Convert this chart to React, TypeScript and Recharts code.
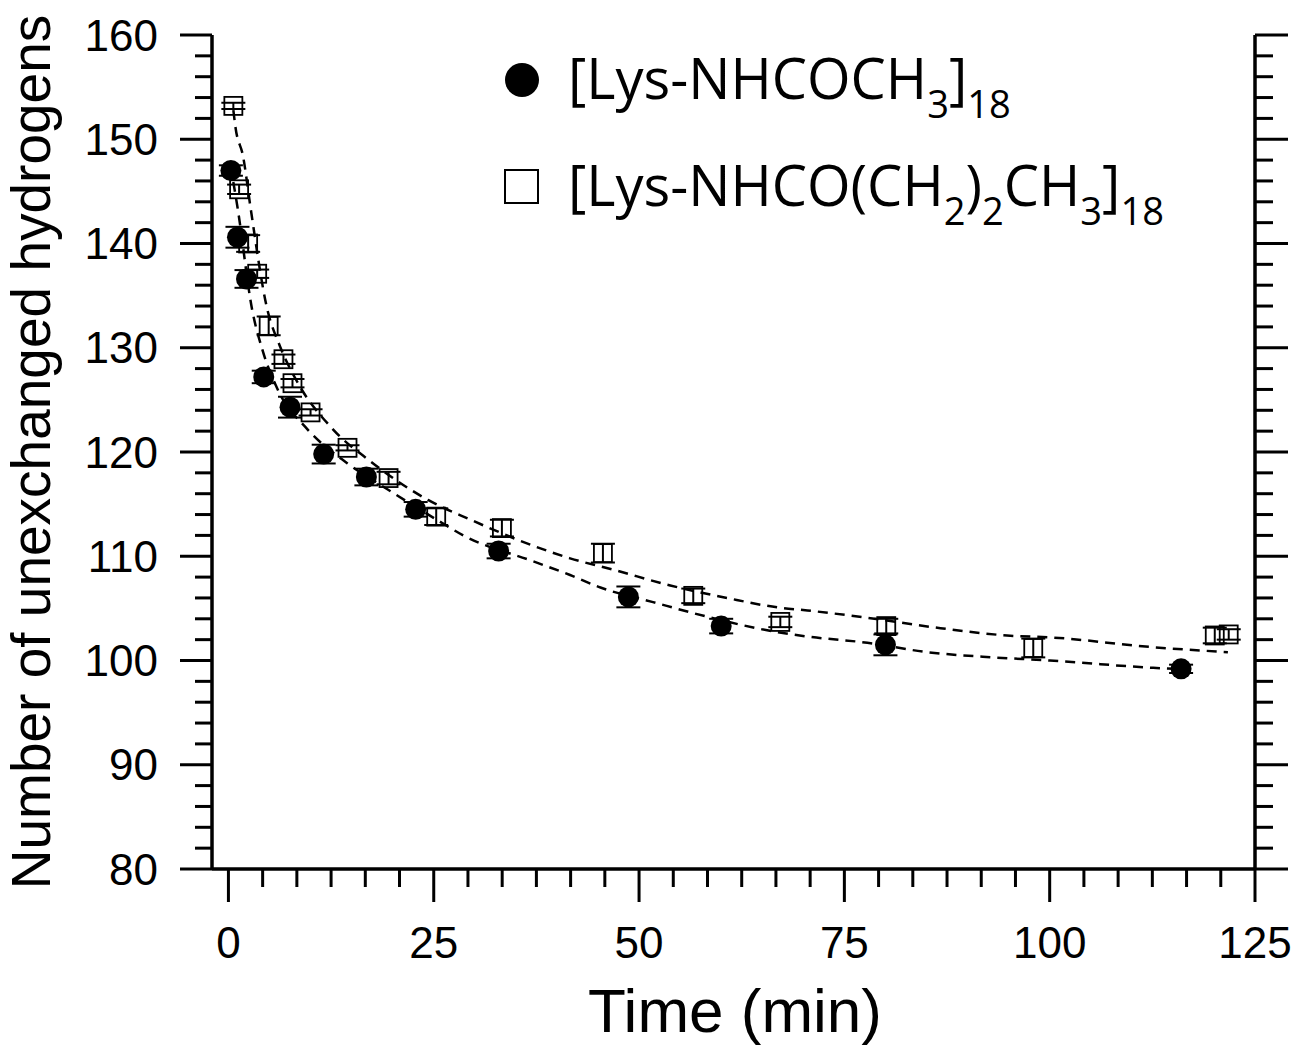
import React from "react";
import { ComposedChart, Scatter, Line, XAxis, YAxis, ErrorBar, Legend } from "recharts";

// [Lys-NHCOCH3]18 (filled circles)
const acetylTime = [0.3, 1.1, 2.2, 4.3, 7.5, 11.6, 16.8, 22.8, 32.9, 48.7, 60.0, 80.0, 116.0];
const acetylH = [147.0, 140.6, 136.6, 127.2, 124.3, 119.8, 117.6, 114.5, 110.5, 106.1, 103.3, 101.5, 99.2];
const acetylErr = [0.5, 1.0, 0.85, 0.6, 1.0, 0.9, 0.8, 0.7, 0.7, 1.0, 0.7, 1.0, 0.4];

// [Lys-NHCO(CH2)2CH3]18 (open squares)
const butyrylTime = [0.6, 1.3, 2.4, 3.5, 4.9, 6.7, 7.8, 10.0, 14.5, 19.5, 25.3, 33.3, 45.6, 56.6, 67.2, 80.1, 98.0, 120.1, 121.8];
const butyrylH = [153.2, 145.2, 140.0, 137.1, 132.1, 128.9, 126.6, 123.8, 120.4, 117.5, 113.8, 112.7, 110.3, 106.2, 103.7, 103.3, 101.2, 102.4, 102.5];
const butyrylErr = [0.3, 0.45, 0.8, 0.4, 0.9, 0.45, 0.4, 0.3, 0.25, 0.6, 0.8, 0.8, 0.9, 0.7, 0.5, 0.7, 0.9, 0.75, 0.5];

// dashed fit curves
const acetylFitTime = [0.24, 1.1, 2.9, 4.1, 6.0, 9.6, 14.5, 19.4, 25.8, 28.6, 36.8, 41.6, 45.3, 51.7, 58.3, 65.6, 70.5, 77.8, 85.1, 93.1, 100.0, 112.6, 115.3];
const acetylFitH = [147.5, 143.5, 133.6, 129.9, 126.0, 122.2, 118.9, 116.4, 113.3, 112.0, 109.6, 108.2, 107.0, 105.6, 104.2, 102.9, 102.3, 101.7, 100.8, 100.3, 100.0, 99.3, 99.2];
const butyrylFitTime = [0.6, 0.85, 1.8, 2.7, 4.7, 6.3, 8.4, 12.7, 17.3, 24.3, 29.5, 36.8, 41.6, 46.9, 53.8, 60.7, 66.8, 70.5, 77.8, 86.7, 94.8, 100.4, 112.2, 121.7];
const butyrylFitH = [152.8, 151.2, 148.3, 143.4, 133.8, 130.1, 126.7, 122.2, 119.1, 115.4, 113.5, 111.1, 109.8, 108.7, 107.2, 106.0, 105.1, 104.8, 104.1, 103.1, 102.4, 102.2, 101.3, 100.8];

const xMajor = [0, 25, 50, 75, 100, 125];
const xMinorSteps = 6;
const yMajor = [80, 90, 100, 110, 120, 130, 140, 150, 160];
const yMinorSteps = 5;

const legendNames = [
  [{ t: "[Lys-NHCOCH" }, { t: "3", sub: true }, { t: "]" }, { t: "18", sub: true }],
  [{ t: "[Lys-NHCO(CH" }, { t: "2", sub: true }, { t: ")" }, { t: "2", sub: true }, { t: "CH" }, { t: "3", sub: true }, { t: "]" }, { t: "18", sub: true }],
];

const acetylData = acetylTime.map((x, i) => ({ x, h: acetylH[i], err: acetylErr[i] }));
const butyrylData = butyrylTime.map((x, i) => ({ x, h: butyrylH[i], err: butyrylErr[i] }));
const acetylFit = acetylFitTime.map((x, i) => ({ x, h: acetylFitH[i] }));
const butyrylFit = butyrylFitTime.map((x, i) => ({ x, h: butyrylFitH[i] }));

const withMinor = (major: number[], steps: number) => {
  const out: number[] = [];
  for (let i = 0; i < major.length - 1; i++) {
    const d = (major[i + 1] - major[i]) / steps;
    for (let k = 0; k < steps; k++) out.push(major[i] + k * d);
  }
  out.push(major[major.length - 1]);
  return out;
};
const xTicks = withMinor(xMajor, xMinorSteps);
const yTicks = withMinor(yMajor, yMinorSteps);

const isMajor = (v: number, list: number[]) => list.some((m) => Math.abs(m - v) < 1e-6);

const font = '"Liberation Sans", Arial, sans-serif';

const LeftTick = (props: any) => {
  const { x, y, payload } = props;
  const major = isMajor(payload.value, yMajor);
  return (
    <g>
      <line x1={x} x2={x - (major ? 32 : 17)} y1={y} y2={y} stroke="#000" strokeWidth={3} />
      {major && (
        <text x={x - 54} y={y} textAnchor="end" dominantBaseline="central" fontSize={44} fontFamily={font} fill="#000">
          {payload.value}
        </text>
      )}
    </g>
  );
};

const RightTick = (props: any) => {
  const { x, y, payload } = props;
  const major = isMajor(payload.value, yMajor);
  return <line x1={x} x2={x + (major ? 33 : 18)} y1={y} y2={y} stroke="#000" strokeWidth={3} />;
};

const BottomTick = (props: any) => {
  const { x, y, payload } = props;
  const major = isMajor(payload.value, xMajor);
  return (
    <g>
      <line x1={x} x2={x} y1={y} y2={y + (major ? 33 : 18)} stroke="#000" strokeWidth={3} />
      {major && (
        <text x={x} y={y + 89} textAnchor="middle" fontSize={44} fontFamily={font} fill="#000">
          {Math.round(payload.value)}
        </text>
      )}
    </g>
  );
};

const Circle = (props: any) => <circle cx={props.cx} cy={props.cy} r={10.5} fill="#000" />;
const Square = (props: any) => (
  <rect x={props.cx - 9} y={props.cy - 9} width={18} height={18} fill="none" stroke="#000" strokeWidth={1.8} />
);

const renderLegend = () => (
  <div style={{ fontFamily: '"Open Sans", sans-serif', fontSize: 56, color: "#000", lineHeight: 1 }}>
    {legendNames.map((parts, i) => (
      <div key={i} style={{ display: "flex", alignItems: "center", height: 107 }}>
        <svg width={68} height={40}>
          {i === 0 ? (
            <circle cx={22} cy={20} r={17} fill="#000" />
          ) : (
            <rect x={5} y={3} width={33} height={33} fill="none" stroke="#000" strokeWidth={2} />
          )}
        </svg>
        <span style={{ whiteSpace: "nowrap", position: "relative", top: 6 }}>
          {parts.map((p, j) =>
            p.sub ? (
              <span key={j} style={{ fontSize: "0.68em", verticalAlign: "-0.5em" }}>
                {p.t}
              </span>
            ) : (
              <span key={j}>{p.t}</span>
            )
          )}
        </span>
      </div>
    ))}
  </div>
);

export default function App() {
  return (
    <div style={{ position: "absolute", left: 0, top: 0, width: 1297, height: 1048, background: "#fff" }}>
      <ComposedChart width={1297} height={1048} margin={{ top: 35, right: 0, bottom: 0, left: 0 }}>
        <XAxis
          type="number"
          dataKey="x"
          domain={[-2, 125]}
          ticks={xTicks}
          interval={0}
          height={179}
          tickSize={0}
          tickMargin={0}
          tickLine={false}
          tick={<BottomTick />}
          axisLine={{ stroke: "#000", strokeWidth: 3.5 }}
          allowDataOverflow
          label={() => (
            <text x={735} y={1032} textAnchor="middle" fontSize={62} fontFamily={font} fill="#000">
              Time (min)
            </text>
          )}
        />
        <YAxis
          yAxisId="left"
          orientation="left"
          type="number"
          dataKey="h"
          domain={[80, 160]}
          ticks={yTicks}
          interval={0}
          width={212}
          tickSize={0}
          tickMargin={0}
          tickLine={false}
          tick={<LeftTick />}
          axisLine={{ stroke: "#000", strokeWidth: 3.5 }}
          allowDataOverflow
          label={() => (
            <text
              transform="translate(50, 452) rotate(-90)"
              textAnchor="middle"
              fontSize={55}
              fontFamily={font}
              fill="#000"
            >
              Number of unexchanged hydrogens
            </text>
          )}
        />
        <YAxis
          yAxisId="right"
          orientation="right"
          type="number"
          domain={[80, 160]}
          ticks={yTicks}
          interval={0}
          width={42}
          tickSize={0}
          tickMargin={0}
          tickLine={false}
          tick={<RightTick />}
          axisLine={{ stroke: "#000", strokeWidth: 3.5 }}
          allowDataOverflow
        />
        <Legend
          layout="vertical"
          align="center"
          verticalAlign="middle"
          content={renderLegend}
          wrapperStyle={{ left: 500, top: 26, width: "auto" }}
        />
        <Line
          yAxisId="left"
          data={acetylFit}
          dataKey="h"
          type="monotone"
          stroke="#000"
          strokeWidth={2.5}
          strokeDasharray="10 7"
          dot={false}
          legendType="none"
          isAnimationActive={false}
        />
        <Line
          yAxisId="left"
          data={butyrylFit}
          dataKey="h"
          type="monotone"
          stroke="#000"
          strokeWidth={2.5}
          strokeDasharray="10 7"
          dot={false}
          legendType="none"
          isAnimationActive={false}
        />
        <Scatter yAxisId="left" name="butyryl" data={butyrylData} dataKey="h" shape={<Square />} isAnimationActive={false}>
          <ErrorBar dataKey="err" direction="y" width={12} stroke="#000" strokeWidth={2} />
        </Scatter>
        <Scatter yAxisId="left" name="acetyl" data={acetylData} dataKey="h" shape={<Circle />} isAnimationActive={false}>
          <ErrorBar dataKey="err" direction="y" width={12} stroke="#000" strokeWidth={2} />
        </Scatter>
      </ComposedChart>
    </div>
  );
}
